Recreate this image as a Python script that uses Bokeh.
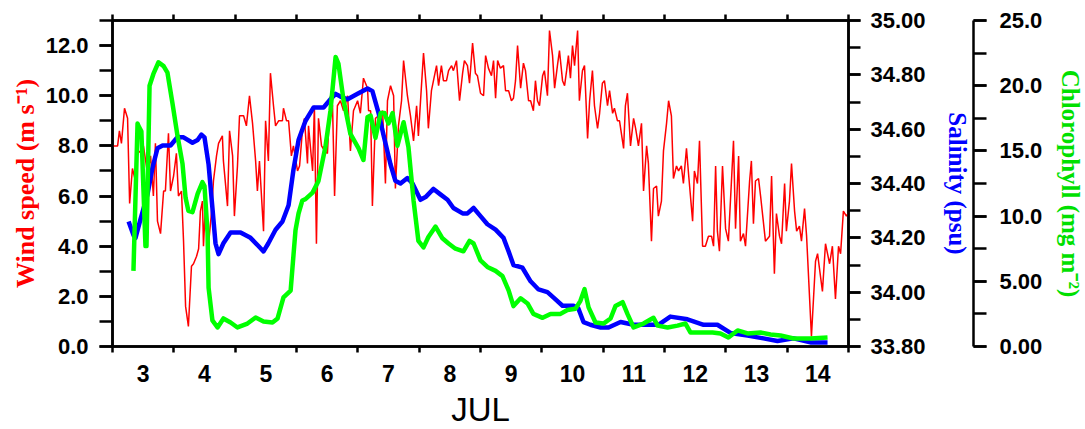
from bokeh.plotting import figure
from bokeh.models import Range1d, LinearAxis, FixedTicker, NumeralTickFormatter, CustomJSTickFormatter
from bokeh.embed import file_html
from bokeh.resources import INLINE

# ---- data (time in hours since 3 JUL 00:00) ----
wind_hours = [0, 2.0, 2.7, 3.5, 4.7, 5.9, 6.7, 7.8, 9.0, 9.8, 11.0, 12.1, 13.7, 14.9, 16.0, 16.8, 17.6, 18.8,
              20.0, 20.7, 21.9, 22.7, 23.9, 25.0, 25.8, 27.0, 27.8, 28.6, 29.7, 30.9, 31.7, 32.9, 33.7, 34.4,
              35.2, 35.6, 36.4, 37.6, 38.7, 39.5, 40.7, 41.5, 43.0, 43.4, 45.0, 45.8, 47.0, 47.7, 48.9, 49.7,
              51.3, 52.4, 53.6, 54.8, 56.0, 56.7, 57.5, 59.1, 59.9, 61.0, 61.8, 63.0, 63.8, 65.0, 66.5, 66.9,
              68.1, 68.9, 70.0, 70.8, 72.4, 73.2, 74.3, 75.1, 76.3, 76.7, 78.3, 79.0, 79.8, 80.6, 81.8, 83.0,
              84.1, 85.3, 86.1, 86.9, 88.0, 89.2, 90.4, 92.0, 93.1, 94.3, 95.9, 97.0, 98.2, 99.8, 100.2, 101.0,
              101.7, 102.9, 104.1, 105.7, 106.8, 107.6, 108.8, 110.0, 110.7, 111.9, 113.1, 113.9, 115.4, 116.6,
              117.8, 119.0, 119.7, 120.9, 121.7, 122.9, 123.6, 124.8, 125.6, 126.8, 127.6, 128.7, 129.5, 130.7,
              131.5, 132.7, 133.4, 134.6, 135.8, 137.0, 137.7, 138.9, 139.7, 140.9, 142.0, 142.8, 144.0, 145.2,
              146.0, 147.1, 148.3, 149.1, 149.9, 150.7, 151.8, 153.0, 153.8, 155.0, 156.1, 156.9, 157.7, 158.5,
              159.7, 160.8, 161.6, 162.8, 163.6, 164.7, 165.5, 166.3, 167.1, 168.3, 169.0, 170.2, 171.0, 172.2,
              173.0, 174.1, 174.9, 176.1, 176.9, 177.7, 178.4, 179.2, 180.0, 180.8, 182.0, 182.7, 183.9, 184.7,
              185.9, 186.7, 187.8, 188.6, 189.8, 190.6, 191.7, 192.5, 193.7, 194.5, 195.7, 196.4, 197.6, 198.4,
              200.0, 200.7, 201.5, 202.7, 203.9, 204.7, 205.8, 207.0, 207.8, 209.0, 209.7, 210.9, 211.7, 212.9,
              213.6, 214.8, 215.6, 216.8, 217.6, 218.7, 219.5, 220.7, 221.5, 222.6, 223.4, 224.6, 225.4, 227.0,
              227.7, 228.9, 229.7, 230.9, 232.0, 233.2, 234.4, 235.2, 236.0, 236.7, 237.5, 238.7, 239.9, 241.0,
              243.0, 243.8, 245.0, 245.7, 246.9, 247.7, 249.3, 250.0, 250.8, 251.6, 252.8, 253.6, 255.5, 257.1,
              257.9, 259.0, 259.8, 261.0, 261.8, 263.0, 263.7, 264.9, 265.7, 266.9, 267.7, 268.8, 269.6, 270.8,
              271.6, 273.5, 275.1, 275.9, 277.8, 279.0, 280.6, 281.7, 282.9, 284.1, 284.9, 286.0, 287.2, 287.8]
wind_speed = [8.0, 8.0, 8.6, 8.1, 9.5, 9.1, 5.7, 7.1, 6.6, 7.7, 7.8, 8.0, 6.9, 7.6, 6.0, 8.1, 5.0, 4.5,
              6.2, 6.2, 8.5, 6.2, 6.8, 7.7, 6.0, 6.2, 4.2, 1.6, 0.8, 3.2, 3.3, 3.6, 3.9, 5.4,
              5.8, 4.0, 5.7, 4.1, 5.3, 6.6, 7.6, 8.1, 8.4, 7.4, 5.6, 8.6, 7.6, 5.2, 7.2, 9.2,
              9.2, 8.8, 10.0, 8.9, 7.4, 6.2, 7.4, 4.6, 9.0, 7.4, 10.9, 9.6, 8.8, 9.0, 9.0, 9.5,
              9.0, 9.0, 7.6, 8.0, 7.0, 7.2, 8.6, 9.1, 7.3, 8.8, 7.0, 9.6, 4.1, 9.1, 8.0, 7.8,
              7.7, 10.0, 9.6, 6.0, 9.6, 9.8, 9.4, 10.0, 7.8, 9.4, 9.8, 9.3, 10.7, 10.3, 9.4, 9.4,
              5.6, 9.1, 9.2, 9.4, 6.5, 9.8, 10.4, 10.0, 6.3, 8.8, 9.8, 11.4, 10.0, 9.2,
              8.2, 9.6, 8.4, 10.4, 11.7, 10.2, 8.7, 10.2, 10.6, 11.2, 10.4, 11.2, 10.6, 10.6,
              11.0, 11.2, 11.0, 11.4, 9.8, 10.9, 11.4, 11.2, 10.5, 12.1, 10.9, 10.8, 10.1, 10.0,
              11.6, 11.1, 10.8, 11.4, 9.9, 11.4, 11.1, 11.2, 10.2, 10.2, 9.8, 9.9, 10.6, 12.0,
              10.3, 11.3, 11.0, 9.8, 9.8, 9.4, 10.6, 9.8, 9.6, 10.8, 11.0, 10.0, 12.6, 11.6,
              10.3, 11.2, 11.8, 10.6, 10.4, 11.0, 11.6, 10.7, 12.0, 11.2, 12.6, 9.8, 11.0, 11.2,
              8.3, 9.8, 11.0, 9.6, 8.7, 9.3, 10.5, 10.6, 9.6, 10.2, 9.3, 9.5, 9.0, 9.0,
              7.9, 9.6, 10.1, 8.0, 9.1, 8.7, 8.0, 8.9, 6.2, 8.0, 7.3, 4.2, 6.3, 6.4,
              5.2, 5.8, 7.8, 8.9, 9.8, 9.2, 6.7, 7.2, 7.0, 7.2, 6.5, 7.9, 6.9, 5.0,
              7.0, 6.5, 8.2, 4.0, 4.0, 4.4, 4.4, 4.0, 7.2, 4.6, 3.8, 7.2, 4.7, 4.2,
              8.2, 4.7, 7.6, 4.2, 4.5, 4.0, 6.6, 7.4, 4.9, 6.6, 6.7, 6.0, 4.2, 4.4,
              6.8, 2.9, 5.3, 4.4, 4.1, 6.5, 4.6, 5.8, 7.3, 5.4, 4.6, 4.8, 4.2, 5.5,
              4.4, 0.4, 3.4, 3.7, 2.2, 4.1, 3.3, 4.0, 1.9, 4.0, 3.7, 5.4, 5.2, 5.3]

sal_hours = [6.3, 8.2, 9.0, 11.0, 13.7, 15.7, 17.6, 19.6, 22.7, 25.4, 27.8, 31.3, 33.3, 34.8, 36.0, 37.6,
             39.1, 40.3, 41.5, 43.4, 46.2, 50.1, 54.0, 57.1, 59.1, 61.0, 63.8, 66.5, 68.9, 70.8, 72.8, 75.5,
             78.7, 82.6, 85.3, 87.3, 89.2, 92.0, 95.9, 99.8, 101.7, 104.1, 106.0, 108.8, 110.7, 112.7, 115.4,
             117.4, 120.5, 122.5, 125.6, 128.3, 131.1, 133.4, 137.0, 138.9, 141.3, 144.0, 146.7, 149.9, 153.0,
             155.0, 156.9, 160.4, 163.6, 166.7, 170.2, 172.6, 176.1, 180.4, 182.3, 184.3, 187.0, 191.0, 194.1,
             198.8, 203.9, 209.3, 213.6, 218.3, 225.0, 231.3, 236.7, 241.8, 248.5, 254.7, 260.2, 266.5, 273.1,
             279.8]
salinity = [34.26, 34.21, 34.20, 34.27, 34.36, 34.46, 34.53, 34.54, 34.54, 34.57, 34.57, 34.55, 34.56, 34.58,
            34.57, 34.47, 34.31, 34.18, 34.14, 34.18, 34.22, 34.22, 34.20, 34.17, 34.15, 34.18, 34.23, 34.26,
            34.32, 34.45, 34.56, 34.63, 34.68, 34.68, 34.71, 34.73, 34.72, 34.71, 34.73, 34.75, 34.74, 34.66,
            34.58, 34.47, 34.41, 34.40, 34.42, 34.40, 34.34, 34.35, 34.38, 34.36, 34.34, 34.31, 34.29, 34.29,
            34.31, 34.28, 34.25, 34.23, 34.20, 34.15, 34.10, 34.09, 34.04, 34.01, 34.00, 33.98, 33.95, 33.95,
            33.94, 33.89, 33.88, 33.87, 33.87, 33.89, 33.88, 33.88, 33.88, 33.91, 33.90, 33.88, 33.88, 33.85,
            33.84, 33.83, 33.82, 33.83, 33.815, 33.815]

chl_hours = [8.2, 9.8, 10.2, 11.3, 12.9, 13.3, 14.5, 16.0, 18.0, 20.0, 21.5, 23.5, 25.4, 27.4, 28.6, 29.7,
             31.3, 33.3, 35.2, 36.0, 37.2, 37.6, 39.1, 41.1, 43.4, 46.2, 48.9, 52.8, 56.0, 59.1, 62.6, 64.6,
             66.9, 69.7, 71.6, 72.8, 74.3, 75.5, 78.3, 80.6, 83.3, 85.3, 87.3, 88.4, 90.4, 93.1, 96.3, 98.2,
             99.8, 101.0, 102.9, 104.9, 106.4, 108.0, 109.6, 111.5, 113.9, 115.8, 117.8, 119.7, 121.7, 123.6,
             126.4, 129.1, 131.5, 134.2, 137.3, 139.7, 141.3, 144.0, 146.7, 149.9, 152.6, 155.0, 156.9, 159.7,
             162.4, 164.7, 168.3, 171.4, 175.3, 178.0, 181.2, 183.1, 184.7, 186.3, 189.0, 192.1, 194.9, 196.8,
             199.6, 201.5, 203.9, 207.8, 210.5, 211.7, 213.3, 217.2, 221.1, 224.2, 226.2, 230.1, 234.8, 237.9,
             241.0, 244.6, 248.5, 253.6, 257.5, 261.4, 266.5, 273.1, 279.8]
chlorophyll = [5.8, 17.1, 16.9, 16.5, 7.7, 7.7, 20.0, 20.9, 21.8, 21.5, 21.0, 18.6, 16.2, 14.0, 11.4, 10.4,
               10.3, 11.7, 12.6, 12.3, 8.7, 4.5, 2.0, 1.46, 2.15, 1.84, 1.46, 1.76, 2.22, 1.92, 1.84, 2.15,
               3.76, 4.29, 8.9, 10.2, 11.2, 11.3, 11.8, 12.7, 15.3, 18.1, 22.2, 21.7, 18.9, 16.3, 15.2, 14.3,
               17.6, 17.7, 16.0, 17.9, 17.9, 17.1, 17.9, 15.4, 17.2, 15.3, 11.2, 8.1, 7.6, 8.4,
               9.2, 8.3, 7.9, 7.5, 7.3, 8.1, 7.9, 6.6, 6.1, 5.8, 5.4, 4.3, 3.1, 3.7,
               3.3, 2.5, 2.2, 2.5, 2.5, 2.8, 2.9, 3.5, 4.4, 3.0, 1.84, 1.76, 2.15, 3.1,
               3.4, 2.5, 1.46, 1.76, 2.07, 2.2, 1.6, 1.46, 1.6, 1.76, 1.07, 1.07, 1.07, 1.0,
               0.69, 1.23, 1.0, 1.07, 0.92, 0.84, 0.61, 0.61, 0.69]

start_day = 3
day_bounds = list(range(3, 16))
day_label_pos = [d + 0.5 for d in range(3, 15)]
wind_ticks = [0, 2, 4, 6, 8, 10, 12]
wind_minor = list(range(0, 14))
sal_ticks = [33.8, 34.0, 34.2, 34.4, 34.6, 34.8, 35.0]
sal_minor = [round(33.8 + 0.1 * i, 2) for i in range(13)]
chl_ticks = [0, 5, 10, 15, 20, 25]
chl_minor = [0, 2.5, 5, 7.5, 10, 12.5, 15, 17.5, 20, 22.5, 25]

wind_x = [start_day + h / 24 for h in wind_hours]
sal_x = [start_day + h / 24 for h in sal_hours]
chl_x = [start_day + h / 24 for h in chl_hours]

TICK_FONT = "Liberation Sans"
TITLE_FONT = "Liberation Serif"

p = figure(frame_width=736, frame_height=326, output_backend="svg", toolbar_location=None,
           x_range=Range1d(3, 15), y_range=Range1d(0, 13),
           min_border_left=112, min_border_right=237, min_border_top=20, min_border_bottom=83,
           x_axis_location=None, y_axis_location=None)
p.xgrid.visible = False
p.ygrid.visible = False
p.outline_line_color = "black"
p.outline_line_width = 2.5
p.background_fill_color = "white"
p.border_fill_color = "white"

p.extra_y_ranges = {"sal": Range1d(33.8, 35.0), "chl": Range1d(0, 25)}


def style_axis(ax, tick_len, minor_len):
    ax.axis_line_color = "black"
    ax.axis_line_width = 2.5
    ax.major_tick_line_color = "black"
    ax.major_tick_line_width = 2.5
    ax.minor_tick_line_color = "black"
    ax.minor_tick_line_width = 2.5
    ax.major_tick_out = tick_len
    ax.major_tick_in = 0
    ax.minor_tick_out = minor_len
    ax.minor_tick_in = 0
    ax.major_label_text_font = TICK_FONT
    ax.major_label_text_font_style = "bold"
    ax.major_label_text_font_size = "22px"
    ax.major_label_text_color = "black"
    ax.axis_label_text_font = TITLE_FONT
    ax.axis_label_text_font_style = "bold"
    ax.axis_label_text_font_size = "25px"


# left axis: wind speed
ax_w = LinearAxis(ticker=FixedTicker(ticks=wind_ticks, minor_ticks=wind_minor),
                  formatter=NumeralTickFormatter(format="0.0"),
                  axis_label="Wind speed (m s⁻¹)")
style_axis(ax_w, 13, 13)
ax_w.axis_label_text_color = "#ff0000"
ax_w.major_label_standoff = 11
ax_w.axis_label_standoff = 3
ax_w.axis_label_text_font_size = "26px"
p.add_layout(ax_w, "left")

# right axis: salinity
ax_s = LinearAxis(y_range_name="sal", ticker=FixedTicker(ticks=sal_ticks, minor_ticks=sal_minor),
                  formatter=NumeralTickFormatter(format="0.00"),
                  axis_label="Salinity (psu)")
style_axis(ax_s, 12, 12)
ax_s.axis_label_text_color = "#0000ff"
ax_s.major_label_standoff = 10
ax_s.axis_label_standoff = 15
p.add_layout(ax_s, "right")

# right axis: chlorophyll
ax_c = LinearAxis(y_range_name="chl", ticker=FixedTicker(ticks=chl_ticks, minor_ticks=chl_minor),
                  formatter=CustomJSTickFormatter(code="return tick < 10 ? tick.toFixed(2) : tick.toFixed(1);"),
                  axis_label="Chlorophyll (mg m⁻²)")
style_axis(ax_c, 13, 13)
ax_c.axis_label_text_color = "#00e000"
ax_c.major_label_standoff = 13
ax_c.axis_label_standoff = 12
p.add_layout(ax_c, "right")

# bottom axis: days (labels at noon, ticks at day boundaries)
ax_b = LinearAxis(ticker=FixedTicker(ticks=day_label_pos, minor_ticks=day_bounds),
                  formatter=CustomJSTickFormatter(code="return Math.floor(tick).toString();"),
                  axis_label="JUL")
style_axis(ax_b, 0, 6)
ax_b.major_label_text_font_size = "23px"
ax_b.major_label_standoff = 12
ax_b.axis_label_text_font = TICK_FONT
ax_b.axis_label_text_font_style = "normal"
ax_b.axis_label_text_font_size = "33px"
ax_b.axis_label_text_color = "black"
ax_b.axis_label_standoff = 6
p.add_layout(ax_b, "below")

# top axis: ticks only
ax_t = LinearAxis(ticker=FixedTicker(ticks=[], minor_ticks=day_bounds))
style_axis(ax_t, 0, 6)
p.add_layout(ax_t, "above")

p.line(wind_x, wind_speed, line_color="#ff0000", line_width=1.5)
p.line(sal_x, salinity, line_color="#0000ff", line_width=4.5, y_range_name="sal", line_join="round")
p.line(chl_x, chlorophyll, line_color="#00ff00", line_width=4.5, y_range_name="chl", line_join="round")

open("out.html", "w").write(file_html(p, INLINE))
